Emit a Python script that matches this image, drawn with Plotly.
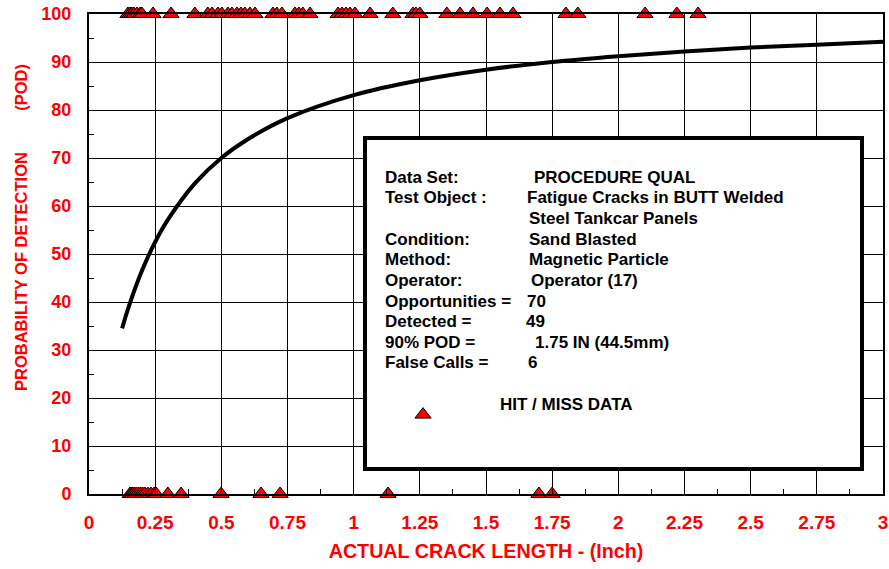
import plotly.graph_objects as go

# Crack lengths (inch) of the inspected flaws
hit_length = [0.147, 0.155, 0.162, 0.170, 0.181, 0.193, 0.200, 0.242, 0.310, 0.400,
              0.449, 0.465, 0.487, 0.502, 0.525, 0.540, 0.559, 0.574, 0.589, 0.608,
              0.627, 0.695, 0.710, 0.729, 0.778, 0.793, 0.808, 0.835, 0.941, 0.956,
              0.971, 0.986, 1.005, 1.062, 1.148, 1.224, 1.235, 1.250, 1.352, 1.402,
              1.451, 1.504, 1.553, 1.602, 1.802, 1.847, 2.101, 2.221, 2.301]
miss_length = [0.155, 0.160, 0.166, 0.173, 0.180, 0.188, 0.196, 0.203, 0.211, 0.222,
               0.234, 0.246, 0.254, 0.298, 0.348, 0.499, 0.650, 0.722, 1.130, 1.700,
               1.750]
hit_pod = [100] * len(hit_length)
miss_pod = [0] * len(miss_length)

# Fitted POD curve
curve_length = [0.125, 0.15, 0.2, 0.25, 0.3, 0.4, 0.5, 0.6, 0.75, 1.0, 1.25, 1.5,
                1.75, 2.0, 2.25, 2.5, 2.75, 3.0]
curve_pod = [34.5, 39.0, 46.5, 52.5, 57.3, 64.7, 70.0, 73.9, 78.3, 83.1, 86.2, 88.4,
             90.0, 91.2, 92.2, 93.0, 93.6, 94.2]

# Axis ticks
x_tick_values = [0, 0.25, 0.5, 0.75, 1, 1.25, 1.5, 1.75, 2, 2.25, 2.5, 2.75, 3]
x_tick_labels = ["0", "0.25", "0.5", "0.75", "1", "1.25", "1.5", "1.75", "2", "2.25",
                 "2.5", "2.75", "3"]
y_tick_values = [0, 10, 20, 30, 40, 50, 60, 70, 80, 90, 100]

# Summary box content
info_labels = ["Data Set:", "Test Object :", "", "Condition:", "Method:", "Operator:",
               "Opportunities =", "Detected =", "90% POD =", "False Calls ="]
info_values = ["PROCEDURE QUAL", "Fatigue Cracks in BUTT Welded", "Steel Tankcar Panels",
               "Sand Blasted", "Magnetic Particle", "Operator (17)", "70", "49",
               "1.75 IN (44.5mm)", "6"]

# ---- layout geometry (pixels) ----
W, H = 889, 569
L, R, T, B = 89, 6, 14, 75
PW, PH = W - L - R, H - T - B


def px(x):
    return (x - L) / PW


def py(y):
    return (T + PH - y) / PH


row_y = [177, 197, 218, 239, 259, 280, 301, 321, 342, 362]
value_x = [532, 524.5, 526.5, 526.5, 526.5, 529, 524.5, 523.5, 532.5, 525.5]
label_x = 383

RED = "#ff0000"
FONT = "Arial, Liberation Sans, sans-serif"

fig = go.Figure()

fig.add_trace(go.Scatter(
    x=curve_length, y=curve_pod, mode="lines", line_shape="spline",
    line=dict(color="black", width=4), showlegend=False, hoverinfo="skip"))

marker = dict(symbol="triangle-up", size=14, color=RED, line=dict(color="black", width=1))
# second (blank) line lifts the legend text above its symbol
fig.add_trace(go.Scatter(
    x=hit_length, y=hit_pod, mode="markers", marker=marker, cliponaxis=False,
    name="HIT / MISS DATA<br>\u00a0", legendgroup="hm", showlegend=True))
fig.add_trace(go.Scatter(
    x=miss_length, y=miss_pod, mode="markers", marker=marker, cliponaxis=False,
    name="HIT / MISS DATA", legendgroup="hm", showlegend=False))

annotations = []
for lab, val, yy, vx in zip(info_labels, info_values, row_y, value_x):
    if lab:
        annotations.append(dict(x=px(label_x), y=py(yy), text=lab))
    annotations.append(dict(x=px(vx), y=py(yy), text=val))
for a in annotations:
    a.update(xref="paper", yref="paper", xanchor="left", yanchor="middle",
             showarrow=False, font=dict(family=FONT, size=17, color="black", weight="bold"))

# Y axis title
annotations.append(dict(
    x=px(21), y=py(228), xref="paper", yref="paper", showarrow=False,
    text="PROBABILITY OF DETECTION" + "\u00a0" * 9 + "(POD)", textangle=-90,
    xanchor="center", yanchor="middle",
    font=dict(family=FONT, size=16.5, color=RED, weight="bold")))

fig.update_layout(
    width=W, height=H,
    margin=dict(l=L, r=R, t=T, b=B, pad=0, autoexpand=False),
    paper_bgcolor="white", plot_bgcolor="white",
    annotations=annotations,
    shapes=[dict(type="rect", xref="paper", yref="paper",
                 x0=px(365), x1=px(862), y0=py(469), y1=py(138),
                 line=dict(color="black", width=4), fillcolor="white", layer="above")],
    legend=dict(x=px(346), y=py(415), xanchor="left", yanchor="middle",
                itemwidth=144, valign="middle",
                bgcolor="rgba(0,0,0,0)",
                font=dict(family=FONT, size=17, color="black", weight="bold")),
    xaxis=dict(
        range=[0, 3], tickvals=x_tick_values, ticktext=x_tick_labels,
        automargin=False,
        showgrid=True, gridcolor="black", gridwidth=1,
        showline=True, linecolor="black", linewidth=2, mirror=True,
        ticks="inside", ticklen=0, zeroline=False,
        minor=dict(dtick=0.125, ticks="inside", ticklen=5, tickcolor="black", showgrid=False),
        tickfont=dict(family=FONT, size=19, color=RED, weight="bold"),
        ticklabelstandoff=10,
        title=dict(text="ACTUAL CRACK LENGTH - (Inch)", standoff=12,
                   font=dict(family=FONT, size=19.7, color=RED, weight="bold")),
    ),
    yaxis=dict(
        range=[0, 100], tickvals=y_tick_values,
        automargin=False,
        showgrid=True, gridcolor="black", gridwidth=1,
        showline=True, linecolor="black", linewidth=2, mirror=True,
        ticks="inside", ticklen=0, zeroline=False,
        minor=dict(dtick=5, ticks="inside", ticklen=5, tickcolor="black", showgrid=False),
        tickfont=dict(family=FONT, size=18, color=RED, weight="bold"),
        ticklabelstandoff=12,
    ),
)

fig.write_html("out.html")
